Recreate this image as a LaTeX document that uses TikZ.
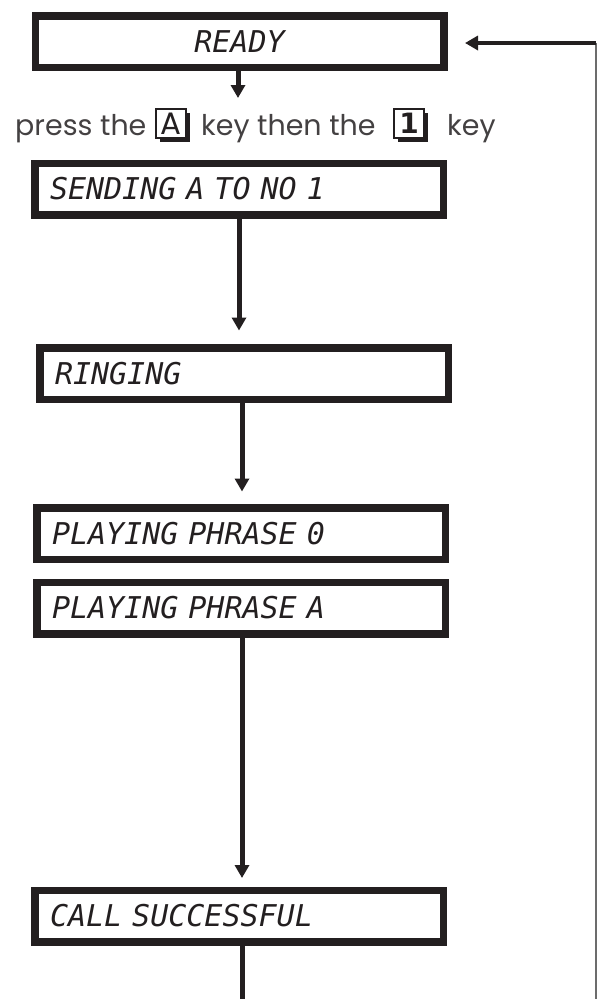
\documentclass[tikz,border=0pt]{standalone}
\usepackage{fontspec}
\usetikzlibrary{arrows.meta,shadows}
\newfontfamily\lcdfont{DejaVu Sans Mono}
\newfontfamily\keyfont{Poppins}
\newfontfamily\capfont{DejaVu Sans}
\definecolor{ink}{HTML}{231F20}
\begin{document}
\begin{tikzpicture}[x=1pt,y=-1pt,
  lcdbox/.style={draw=ink, line width=7.5pt, minimum width=408.5pt, minimum height=51.5pt,
    inner ysep=0pt, inner xsep=15pt, text width=378pt, align=left,
    font=\lcdfont\itshape\fontsize{30}{30}\selectfont, text=ink},
  lcdcenter/.style={lcdbox, align=center},
  arr/.style={draw=ink, line width=5pt, -{Triangle[width=14pt,length=13pt]}},
  plainline/.style={draw=ink, line width=5pt},
  keytext/.style={inner sep=0pt, anchor=base west, text=ink!85,
    font=\keyfont\fontsize{28.5}{28.5}\selectfont},
  keybox/.style={draw=ink, line width=1.3pt, fill=white, minimum width=30pt, minimum height=29pt,
    inner sep=0pt, text=ink,
    drop shadow={shadow xshift=3.5pt, shadow yshift=-3.5pt, opacity=1, fill=ink}},
  returnline/.style={draw=gray!85!black, line width=1.3pt}]
\useasboundingbox (0,0) rectangle (597,999);

\node[lcdcenter] (ready) at (239.5,41.5) {READY};
\node[keytext] (t1) at (15,135) {press the};
\node[keybox, font=\keyfont\fontsize{31}{31}\selectfont] (ka) at (171,123.5) {A};
\node[keytext] (t2) at (201,135) {key then the};
\node[keybox, font=\capfont\bfseries\fontsize{28}{28}\selectfont] (k1) at (409,123.5) {1};
\node[keytext] (t3) at (447,135) {key};
\node[lcdbox] (sending) at (239,189) {SENDING A TO NO 1};
\node[lcdbox] (ringing) at (244,373.5) {RINGING};
\node[lcdbox] (pp0) at (241,533.5) {PLAYING PHRASE 0};
\node[lcdbox] (ppa) at (241,608) {PLAYING PHRASE A};
\node[lcdbox] (call) at (239,916) {CALL SUCCESSFUL};

\coordinate (rb) at (596,999);
\coordinate (rt) at (596,43);
\coordinate (rtip) at (465,43);
\coordinate (readytip) at (238,98);

\draw[arr] ([xshift=-1.5pt]ready.south) -- (readytip);
\draw[arr, shorten >=13.5pt] (sending.south) -- (sending.south |- ringing.north);
\draw[arr, shorten >=12.5pt] ([xshift=-2pt]ringing.south) -- ([xshift=-2pt]ringing.south |- pp0.north);
\draw[arr, shorten >=8.5pt] ([xshift=1pt]ppa.south) -- ([xshift=1pt]ppa.south |- call.north);
\draw[plainline] ([xshift=3pt]call.south) -- ([xshift=3pt]call.south |- rb);

\draw[returnline] (rb) -- (rt);
\draw[arr, line width=4.5pt] (rt) -- (rtip);
\end{tikzpicture}
\end{document}
